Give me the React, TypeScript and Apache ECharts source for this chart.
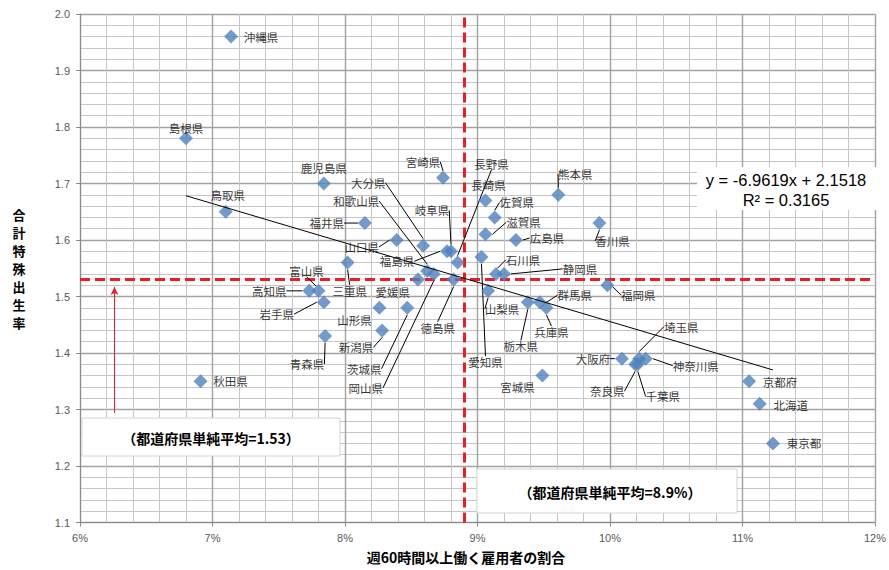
import React, { useEffect, useRef } from "react";
import * as echarts from "echarts";

// ---------- data ----------
const prefectures = [
  "沖縄県", "島根県", "鹿児島県", "鳥取県", "福井県", "山口県", "大分県", "和歌山県",
  "宮崎県", "長野県", "岐阜県", "福島県", "長崎県", "佐賀県", "滋賀県", "広島県",
  "熊本県", "香川県", "石川県", "静岡県", "愛知県", "山梨県", "群馬県", "兵庫県",
  "栃木県", "福岡県", "宮城県", "大阪府", "埼玉県", "神奈川県", "千葉県", "奈良県",
  "京都府", "北海道", "東京都", "秋田県", "高知県", "富山県", "三重県", "岩手県",
  "青森県", "山形県", "新潟県", "茨城県", "愛媛県", "徳島県", "岡山県",
];
// share of employees working 60+ hours a week (%)
const longHoursShare = [
  7.14, 6.8, 7.84, 7.1, 8.15, 8.39, 8.59, 8.62,
  8.74, 8.85, 8.8, 8.77, 9.06, 9.13, 9.06, 9.29,
  9.61, 9.92, 9.14, 9.2, 9.03, 9.08, 9.47, 9.52,
  9.38, 9.98, 9.49, 10.09, 10.22, 10.27, 10.21, 10.19,
  11.05, 11.13, 11.23, 6.91, 7.73, 7.8, 8.02, 7.84,
  7.85, 8.26, 8.28, 8.47, 8.55, 8.82, 8.67,
];
// total fertility rate
const fertilityRate = [
  1.96, 1.78, 1.7, 1.65, 1.63, 1.6, 1.59, 1.545,
  1.71, 1.56, 1.58, 1.58, 1.67, 1.64, 1.61, 1.6,
  1.68, 1.63, 1.54, 1.54, 1.57, 1.51, 1.49, 1.48,
  1.49, 1.52, 1.36, 1.39, 1.39, 1.39, 1.38, 1.38,
  1.35, 1.31, 1.24, 1.35, 1.51, 1.51, 1.56, 1.49,
  1.43, 1.48, 1.44, 1.48, 1.53, 1.53, 1.54,
];
const xTickRange = [6, 12];
const yTickRange = [1.1, 2.0];
const avgShare = 8.9;
const avgRate = 1.53;
const trendSlope = -6.9619;
const trendIntercept = 2.1518;
const rSquared = 0.3165;

// ---------- label layout (pixel offsets of label centre from point, leader line?) ----------
const labelPlacement: Record<string, [number, number, boolean]> = {
  沖縄県: [30, 0, false], 島根県: [0, -10, false], 鹿児島県: [0, -16, false], 鳥取県: [2, -17, false],
  福井県: [-38, 0, true], 山口県: [-35, 7, true], 大分県: [-55, -63, true], 和歌山県: [-71, -70, true],
  宮崎県: [-20, -16, true], 長野県: [34, -99, true], 岐阜県: [-19, -41, true], 福島県: [-50, 10, true],
  長崎県: [3, -15, false], 佐賀県: [22, -15, true], 滋賀県: [38, -12, true], 広島県: [31, -2, true],
  熊本県: [17, -21, true], 香川県: [13, 18, true], 石川県: [27, -14, true], 静岡県: [76, -5, true],
  愛知県: [4, 105, true], 山梨県: [14, 18, true], 群馬県: [35, -7, true], 兵庫県: [5, 24, true],
  栃木県: [-7, 44, true], 福岡県: [31, 10, true], 宮城県: [-25, 11, false], 大阪府: [-29, 0, true],
  埼玉県: [42, -32, true], 神奈川県: [50, 7, true], 千葉県: [25, 32, true], 奈良県: [-28, 27, true],
  京都府: [31, 1, false], 北海道: [31, 1, false], 東京都: [31, 0, false], 秋田県: [30, 0, false],
  高知県: [-40, 0, true], 富山県: [-12, -20, true], 三重県: [2, 28, true], 岩手県: [-47, 12, true],
  青森県: [-18, 28, true], 山形県: [-25, 12, false], 新潟県: [-26, 17, true], 茨城県: [-43, 61, true],
  愛媛県: [-25, 12, false], 徳島県: [-16, 48, true], 岡山県: [-68, 114, true],
};

const JP = "'Noto Sans CJK JP', 'Noto Sans', sans-serif";
const LAT = "'Liberation Sans', 'Open Sans', sans-serif";
const RED = "#ee1c25";

export default function App() {
  const ref = useRef<HTMLDivElement>(null);
  useEffect(() => {
    if (!ref.current) return;
    const chart = echarts.init(ref.current, undefined, { renderer: "svg" });
    const xMin = Math.min(...longHoursShare);
    const xMax = Math.max(...longHoursShare);
    const trend = (x: number) => trendSlope * (x / 100) + trendIntercept;

    const option: any = {
      animation: false,
      backgroundColor: "#fff",
      grid: { left: 80, right: 11, top: 14, bottom: 47.5, containLabel: false },
      xAxis: {
        type: "value",
        min: xTickRange[0],
        max: xTickRange[1],
        interval: 1,
        axisLine: { show: true, lineStyle: { color: "#8a8a8a", width: 1 } },
        axisTick: { show: true, length: 4, lineStyle: { color: "#8a8a8a" } },
        axisLabel: { formatter: (v: number) => `${v}%`, color: "#595959", fontSize: 11, fontFamily: LAT, margin: 10 },
        splitLine: { show: true, lineStyle: { color: "#a2a2a2", width: 1.4 } },
        minorTick: { show: false, splitNumber: 5 },
        minorSplitLine: { show: true, lineStyle: { color: "#c6c6c6", width: 1 } },
      },
      yAxis: {
        type: "value",
        min: yTickRange[0],
        max: yTickRange[1],
        interval: 0.1,
        axisLine: { show: true, lineStyle: { color: "#8a8a8a", width: 1 } },
        axisTick: { show: true, length: 4, lineStyle: { color: "#8a8a8a" } },
        axisLabel: { formatter: (v: number) => v.toFixed(1), color: "#595959", fontSize: 11, fontFamily: LAT, margin: 10 },
        splitLine: { show: true, lineStyle: { color: "#a2a2a2", width: 1.4 } },
        minorTick: { show: false, splitNumber: 5 },
        minorSplitLine: { show: true, lineStyle: { color: "#c6c6c6", width: 1 } },
      },
      series: [
        {
          name: "平均線",
          type: "line",
          data: [],
          silent: true,
          markLine: {
            silent: true,
            symbol: ["none", "none"],
            label: { show: false },
            lineStyle: { color: RED, width: 3, type: [10, 5] },
            data: [{ xAxis: avgShare }, { yAxis: avgRate }],
          },
          z: 3,
        },
        {
          name: "矢印",
          type: "line",
          data: [],
          silent: true,
          markLine: {
            silent: true,
            symbol: ["none", "arrow"],
            symbolSize: [6, 8],
            label: { show: false },
            lineStyle: { color: RED, width: 1, type: "solid" },
            data: [[{ coord: [6.26, 1.294] }, { coord: [6.26, 1.517] }]],
          },
          z: 3,
        },
        {
          name: "都道府県",
          type: "scatter",
          symbol: "diamond",
          symbolSize: 14,
          itemStyle: { color: "#4F81BD" },
          z: 5,
          data: prefectures.map((n, i) => ({
            name: n,
            value: [longHoursShare[i], fertilityRate[i]],
            labelLine: { show: labelPlacement[n][2] },
            label: { color: "#000" },
          })),
          label: {
            show: true,
            position: "inside",
            formatter: "{b}",
            color: "#000",
            fontSize: 11.5,
            fontFamily: JP,
            align: "center",
            verticalAlign: "middle",
          },
          labelLine: { show: true, lineStyle: { color: "#000", width: 1 } },
          labelLayout: (p: any) => {
            const pl = labelPlacement[prefectures[p.dataIndex]];
            return { dx: pl[0], dy: pl[1] };
          },
        },
        {
          name: "近似直線",
          type: "line",
          silent: true,
          symbol: "none",
          z: 6,
          lineStyle: { color: "#000", width: 1 },
          data: [
            [xMin, trend(xMin)],
            [xMax, trend(xMax)],
          ],
        },
      ],
      graphic: [
        {
          type: "text",
          style: {
            x: 19,
            y: 268,
            text: "合\n計\n特\n殊\n出\n生\n率",
            font: `bold 13px ${JP}`,
            lineHeight: 18,
            textAlign: "center",
            textVerticalAlign: "middle",
            fill: "#000",
          },
        },
        {
          type: "text",
          style: {
            x: 466,
            y: 557,
            text: "週60時間以上働く雇用者の割合",
            font: `bold 14px ${JP}`,
            textAlign: "center",
            textVerticalAlign: "middle",
            fill: "#000",
          },
        },
        {
          type: "rect",
          z: 10,
          shape: { x: 697, y: 167, width: 180, height: 43 },
          style: { fill: "#fff", stroke: "none" },
        },
        {
          type: "text",
          z: 11,
          style: {
            x: 786,
            y: 180,
            text: `y = ${trendSlope}x + ${trendIntercept}`,
            font: `16.5px ${LAT}`,
            textAlign: "center",
            textVerticalAlign: "middle",
            fill: "#000",
          },
        },
        {
          type: "text",
          z: 11,
          style: {
            x: 786,
            y: 200,
            text: `R² = ${rSquared}`,
            font: `16.5px ${LAT}`,
            textAlign: "center",
            textVerticalAlign: "middle",
            fill: "#000",
          },
        },
        {
          type: "rect",
          z: 10,
          shape: { x: 82, y: 418, width: 258, height: 38 },
          style: { fill: "#fff", stroke: "#d4d4d4", lineWidth: 1 },
        },
        {
          type: "text",
          z: 11,
          style: {
            x: 211,
            y: 438,
            text: `（都道府県単純平均=${avgRate}）`,
            font: `bold 14px ${JP}`,
            textAlign: "center",
            textVerticalAlign: "middle",
            fill: "#000",
          },
        },
        {
          type: "rect",
          z: 10,
          shape: { x: 477, y: 469, width: 260, height: 44 },
          style: { fill: "#fff", stroke: "#d4d4d4", lineWidth: 1 },
        },
        {
          type: "text",
          z: 11,
          style: {
            x: 610,
            y: 492,
            text: `（都道府県単純平均=${avgShare}%）`,
            font: `bold 14px ${JP}`,
            textAlign: "center",
            textVerticalAlign: "middle",
            fill: "#000",
          },
        },
      ],
    };
    chart.setOption(option);
    return () => chart.dispose();
  }, []);
  return <div ref={ref} style={{ width: 889, height: 570, position: "absolute", left: 0, top: 0 }} />;
}
